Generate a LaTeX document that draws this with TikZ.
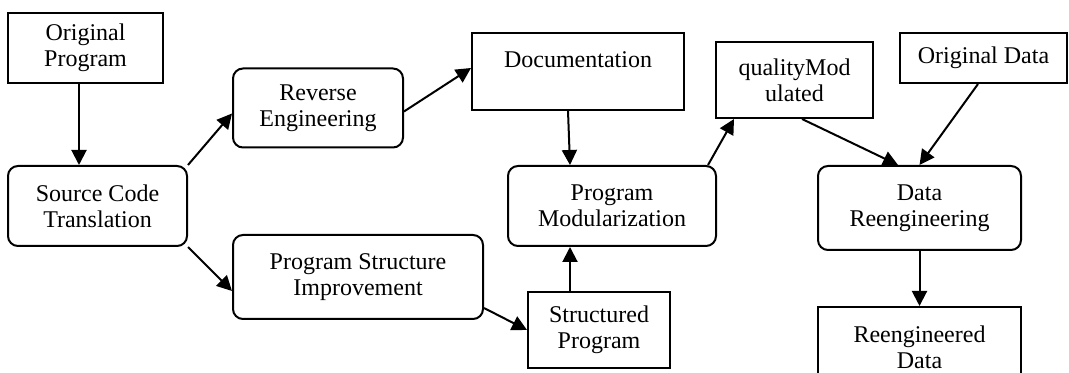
\documentclass[tikz,border=0pt]{standalone}
\usepackage{fontspec}
\setmainfont{Liberation Serif}
\usetikzlibrary{arrows.meta,positioning}

\begin{document}
\begin{tikzpicture}[
    x=0.5pt, y=-0.5pt,
    box/.style={draw, line width=1pt, rounded corners=5pt, align=center,
                font=\fontsize{12}{13}\selectfont, inner sep=2pt},
    data/.style={draw, line width=1pt, align=center,
                 font=\fontsize{12}{13}\selectfont, inner sep=2pt},
    arr/.style={-{Triangle[length=7.5pt, width=7.5pt]}, line width=1pt}
]
\useasboundingbox (0,0) rectangle (1069,373);
\clip (0,0) rectangle (1069,373);

% ── Program side ──
\node[data, minimum width=77.5pt, minimum height=35pt] (origprog) at (85.5,48) {Original\\Program};
\node[box, minimum width=89.5pt, minimum height=40pt] (translate) at (97.5,206) {Source Code\\Translation};
\node[box, minimum width=85pt, minimum height=39.5pt] (reverse) at (318,108) {Reverse\\Engineering};
\node[box, minimum width=125pt, minimum height=42pt] (structimp) at (358,277) {Program Structure\\Improvement};
\node[data, minimum width=106pt, minimum height=38.5pt, text height=8.5pt, text depth=12pt] (docs) at (578,71.5) {Documentation};
\node[box, minimum width=104pt, minimum height=40pt] (modular) at (612,206) {Program\\Modularization};
\node[data, minimum width=71pt, minimum height=38pt] (structprog) at (599,330) {Structured\\Program};
\node[data, minimum width=78.5pt, minimum height=38pt] (quality) at (794.5,80) {qualityMod\\ulated};

\draw[arr] ([xshift=-3.25pt]origprog.south) -- ([xshift=-3.25pt]origprog.south |- translate.north);
\draw[arr] (translate.north east) -- ([yshift=-2.75pt]reverse.west);
\draw[arr] (translate.south east) -- ([yshift=-7pt]structimp.west);
\draw[arr] ([yshift=-1.75pt]reverse.east) -- ([yshift=1.75pt]docs.west);
\draw[arr] ([xshift=-5pt]docs.south) -- ([xshift=-21pt]modular.north);
\draw[arr] ([xshift=-14.5pt]structprog.north) -- ([xshift=-21pt]modular.south);
\draw[arr] ([yshift=-15.5pt]structimp.east) -- (structprog.west);
\draw[arr] ([xshift=-4.5pt]modular.north east) -- ([xshift=9.5pt]quality.south west);

% ── Data side ──
\node[data, minimum width=83.5pt, minimum height=25pt] (origdata) at (983.5,58) {Original Data};
\node[box, minimum width=101.5pt, minimum height=42pt] (datareeng) at (919.5,208) {Data\\Reengineering};
\node[data, minimum width=101.5pt, minimum height=40pt] (reengdata) at (919.5,347) {Reengineered\\Data};

\draw[arr] ([xshift=3.75pt]quality.south) -- ([xshift=-10.75pt]datareeng.north);
\draw[arr] ([xshift=-2.75pt]origdata.south) -- (datareeng.north);
\draw[arr] (datareeng) -- (reengdata);

\end{tikzpicture}
\end{document}
